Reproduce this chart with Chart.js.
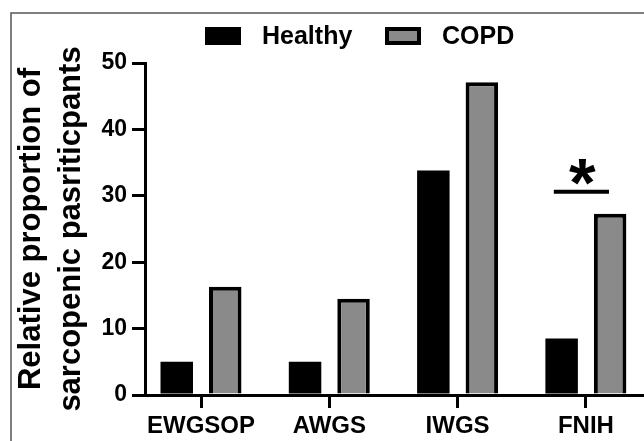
<!DOCTYPE html>
<html><head><meta charset="utf-8">
<script src="https://cdn.jsdelivr.net/npm/chart.js@4"></script>
<style>html,body{margin:0;padding:0;background:#fff}canvas{display:block}</style>
</head><body>
<canvas id="c" width="644" height="441"></canvas>
<script>
const categories = ['EWGSOP', 'AWGS', 'IWGS', 'FNIH'];
const seriesNames = ['Healthy', 'COPD'];
const healthyValues = [5.0, 5.0, 33.8, 8.5];
const copdValues = [16.3, 14.5, 47.1, 27.3];
const yTickValues = [0, 10, 20, 30, 40, 50];
const yTitle = ['Relative proportion of', 'sarcopenic pasriticpants'];
const sigLabel = '*';
const sigFrom = 2.75, sigTo = 3.18, sigValue = 30.6;

const FONT = "'Liberation Sans', Arial, Helvetica, sans-serif";
const toPoints = vals => vals.map((v, i) => ({ x: i, y: v }));

const whiteBg = {
  id: 'whiteBg',
  beforeDraw(chart) {
    const ctx = chart.ctx;
    ctx.save(); ctx.fillStyle = '#fff'; ctx.fillRect(0, 0, chart.width, chart.height); ctx.restore();
  }
};

const framePlugin = {
  id: 'frame',
  afterDraw(chart) {
    const ctx = chart.ctx;
    ctx.save();
    ctx.strokeStyle = '#555'; ctx.lineWidth = 1.5;
    ctx.beginPath();
    ctx.moveTo(11, chart.height); ctx.lineTo(11, 13); ctx.lineTo(chart.width, 13);
    ctx.stroke();
    ctx.restore();
  }
};

const legendPlugin = {
  id: 'customLegend',
  afterDraw(chart) {
    const ctx = chart.ctx;
    ctx.save();
    const items = [{ x: 205, textX: 262 }, { x: 385, textX: 442 }];
    chart.data.datasets.forEach((ds, i) => {
      const it = items[i];
      const bx = it.x, by = 27, bw = 36, bh = 18;
      if (ds.borderWidth) {
        ctx.fillStyle = ds.borderColor; ctx.fillRect(bx, by, bw, bh);
        ctx.fillStyle = ds.backgroundColor; ctx.fillRect(bx + 4, by + 4, bw - 8, bh - 8);
      } else {
        ctx.fillStyle = ds.backgroundColor; ctx.fillRect(bx, by, bw, bh);
      }
      ctx.fillStyle = '#000';
      ctx.font = `bold 25px ${FONT}`;
      ctx.textBaseline = 'alphabetic'; ctx.textAlign = 'left';
      ctx.fillText(ds.label, it.textX, 44);
    });
    ctx.restore();
  }
};

const sigPlugin = {
  id: 'sig',
  afterDatasetsDraw(chart) {
    const ctx = chart.ctx, xs = chart.scales.x, ys = chart.scales.y;
    const x1 = xs.getPixelForValue(sigFrom), x2 = xs.getPixelForValue(sigTo);
    const y = ys.getPixelForValue(sigValue);
    ctx.save();
    ctx.strokeStyle = '#000'; ctx.lineWidth = 4; ctx.lineCap = 'butt';
    ctx.beginPath(); ctx.moveTo(x1, y); ctx.lineTo(x2, y); ctx.stroke();
    ctx.font = `bold 100px ${FONT}`;
    let m = ctx.measureText(sigLabel);
    const h100 = m.actualBoundingBoxAscent + m.actualBoundingBoxDescent;
    const size = 100 * 26 / h100;
    ctx.font = `bold ${size}px ${FONT}`;
    m = ctx.measureText(sigLabel);
    const bottom = y - 7;
    const baseline = bottom - m.actualBoundingBoxDescent;
    ctx.fillStyle = '#000'; ctx.textAlign = 'center'; ctx.textBaseline = 'alphabetic';
    ctx.fillText(sigLabel, (x1 + x2) / 2 + 1, baseline);
    ctx.restore();
  }
};

new Chart(document.getElementById('c'), {
  type: 'bar',
  data: {
    datasets: [
      { label: seriesNames[0], data: toPoints(healthyValues), backgroundColor: '#000000', borderWidth: 0 },
      { label: seriesNames[1], data: toPoints(copdValues), backgroundColor: '#8a8a8a', borderColor: '#000000', borderWidth: 4 }
    ]
  },
  options: {
    responsive: false,
    animation: false,
    events: [],
    categoryPercentage: 0.756,
    barPercentage: 0.67,
    layout: { padding: { top: 63, left: 0, right: 0, bottom: 0 } },
    plugins: { legend: { display: false }, tooltip: { enabled: false } },
    scales: {
      x: {
        type: 'linear',
        offset: false,
        min: -0.4365,
        max: 3.453,
        afterBuildTicks(scale) { scale.ticks = categories.map((c, i) => ({ value: i })); },
        afterFit(scale) { scale.height = 46; },
        ticks: {
          autoSkip: false, maxRotation: 0, padding: 4, color: '#000',
          font: { family: FONT, size: 24, weight: 'bold' },
          callback: v => categories[v]
        },
        grid: { offset: false, drawOnChartArea: false, tickLength: 13, lineWidth: 3, color: '#000' },
        border: { display: true, width: 3, color: '#000' }
      },
      y: {
        min: 0,
        max: 50,
        afterBuildTicks(scale) { scale.ticks = yTickValues.map(v => ({ value: v })); },
        afterFit(scale) { scale.width = 145; },
        ticks: {
          padding: 5, color: '#000',
          font: { family: FONT, size: 23, weight: 'bold' }
        },
        grid: { drawOnChartArea: false, tickLength: 13, lineWidth: 3, color: '#000' },
        border: { display: true, width: 3, color: '#000' },
        title: {
          display: true, text: yTitle, color: '#000',
          font: { family: FONT, size: 31, weight: 'bold', lineHeight: 1.29 },
          padding: { top: 11, bottom: 0 }
        }
      }
    }
  },
  plugins: [whiteBg, sigPlugin, legendPlugin, framePlugin]
});
</script>
</body></html>
